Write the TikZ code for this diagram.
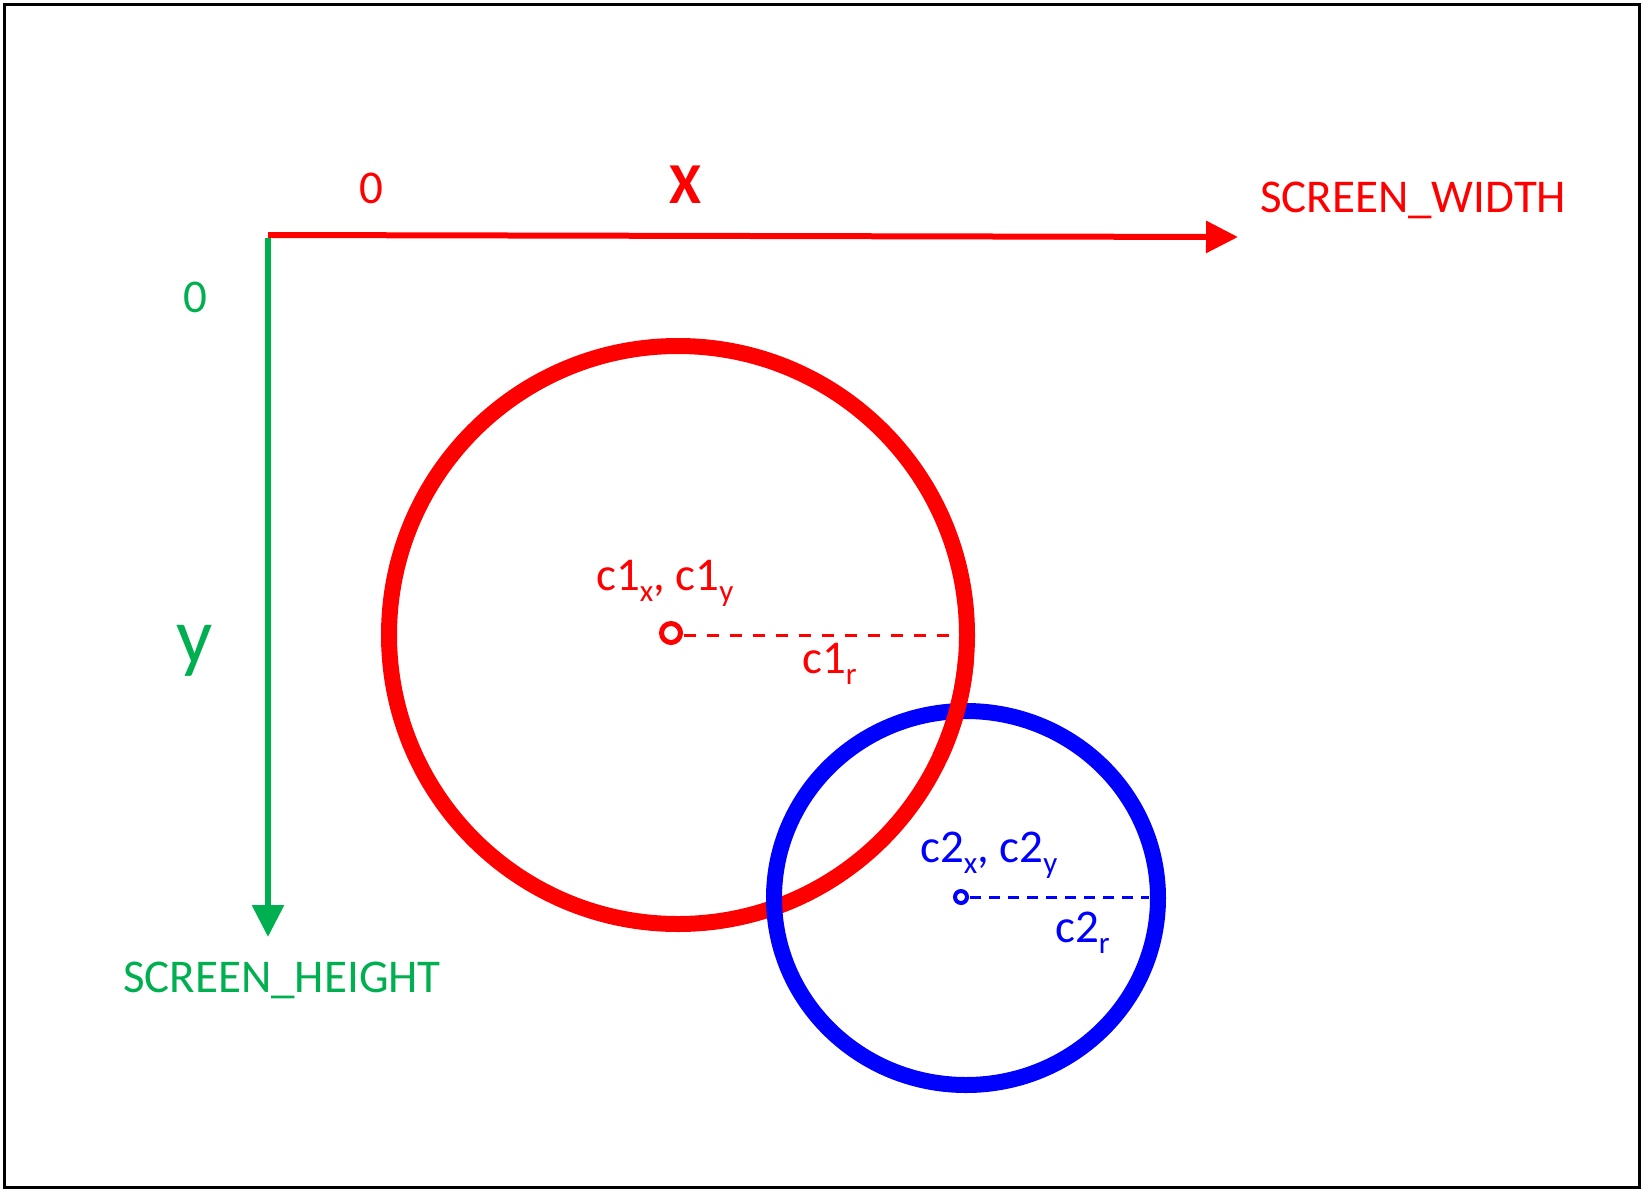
\documentclass[tikz,border=0pt]{standalone}
\usepackage{fontspec}
\setmainfont{Carlito}
\usetikzlibrary{arrows.meta}
\definecolor{myred}{RGB}{255,0,0}
\definecolor{mygreen}{RGB}{0,176,80}
\definecolor{myblue}{RGB}{0,0,255}
\newcommand{\lowidx}[1]{\raisebox{-11pt}{\fontsize{31}{31}\selectfont #1}}
\begin{document}
\begin{tikzpicture}[x=1pt,y=-1pt,
  lbl/.style={inner sep=0pt, anchor=base west, font=\fontsize{47}{56}\selectfont},
  clbl/.style={inner sep=0pt, anchor=base, font=\fontsize{47}{56}\selectfont},
  axisline/.style={line width=6pt, -{Triangle[length=32pt,width=31pt]}},
  ring/.style={line width=16pt},
  centerdot/.style={fill=white},
  radline/.style={line width=3pt, dash pattern=on 12pt off 11pt}]
\useasboundingbox (0,0) rectangle (1644,1192);
\draw[line width=2.6pt] (4.5,4.5) rectangle (1639.5,1187.5);

% axes
\coordinate (xo) at (268,235);
\coordinate (xe) at (1238,237);
\coordinate (yo) at (268,238);
\coordinate (ye) at (268,937);
\draw[axisline, myred] (xo) -- (xe);
\draw[axisline, mygreen] (yo) -- (ye);

\node[clbl, myred] (x0) at (371,203) {0};
\node[clbl, myred, font=\fontsize{58}{60}\selectfont\bfseries] (xlab) at (685,203) {X};
\node[lbl, myred] (sw) at (1260,212) {SCREEN\_WIDTH};
\node[clbl, mygreen] (y0) at (195,312) {0};
\node[clbl, mygreen, font=\fontsize{80}{90}\selectfont] (ylab) at (195,663) {y};
\node[lbl, mygreen] (sh) at (123,992) {SCREEN\_HEIGHT};

% circles
\coordinate (c1) at (678,635);
\coordinate (c2) at (966,898);
\draw[ring, myred] (c1) circle[radius=289];
\draw[ring, myblue] (c2) ellipse[x radius=192, y radius=187];
\draw[ring, myred] (c1) ++(5:289) arc[start angle=5, end angle=25, radius=289];

% centres and radii
\coordinate (d1) at (671,633);
\coordinate (r1) at (958,635);
\draw[radline, myred] (684,635) -- (r1);
\draw[myred, line width=5pt, centerdot] (d1) circle[radius=9.5];
\coordinate (d2) at (961,897);
\coordinate (r2) at (1149,897);
\draw[myblue, line width=3pt, dash pattern=on 11pt off 8pt] (970,897) -- (r2);
\draw[myblue, line width=4pt, centerdot] (d2) circle[radius=6];

\node[lbl, myred] (c1lab) at (596,590) {c1\lowidx{x}, c1\lowidx{y}};
\node[lbl, myred] (c1r) at (802,673) {c1\lowidx{r}};
\node[lbl, myblue] (c2lab) at (920,862) {c2\lowidx{x}, c2\lowidx{y}};
\node[lbl, myblue] (c2r) at (1055,942) {c2\lowidx{r}};
\end{tikzpicture}
\end{document}
